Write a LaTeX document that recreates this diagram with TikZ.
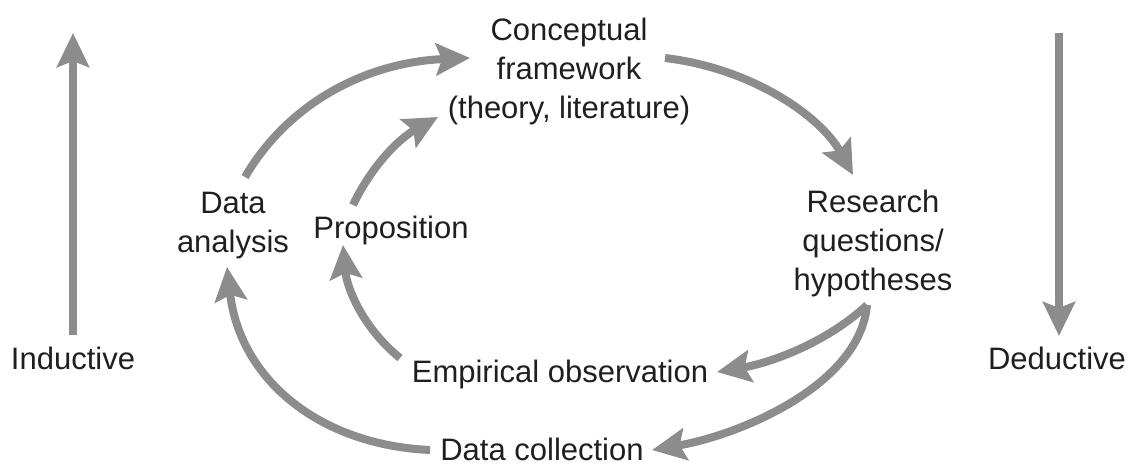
\documentclass[tikz,border=0pt]{standalone}
\usepackage{fontspec}
\setmainfont{Liberation Sans}
\usetikzlibrary{arrows.meta}
\definecolor{arrgray}{RGB}{140,140,140}
\begin{document}
\begin{tikzpicture}[x=0.5pt,y=-0.5pt,
  lbl/.style={inner sep=0pt, anchor=base, align=center, font=\fontsize{15.5}{19.5}\selectfont, text=black!88},
  arr/.style={draw=arrgray, line width=4pt, -{Stealth[length=17pt,width=16pt,inset=3pt]}}]
\useasboundingbox (0,0) rectangle (1131,465);
% labels (anchor base = baseline of last line)
\node[lbl] (cf) at (569,119) {Conceptual\\framework\\(theory, literature)};
\node[lbl] (rq) at (873,290) {Research\\questions/\\hypotheses};
\node[lbl] (da) at (233,252) {Data\\analysis};
\node[lbl] (prop) at (391,238) {Proposition};
\node[lbl] (emp) at (560,382) {Empirical observation};
\node[lbl] (dc) at (542,460) {Data collection};
\node[lbl] (ind) at (73,369) {Inductive};
\node[lbl] (ded) at (1057,369) {Deductive};
% connector end points
\coordinate (indS) at (73,335);
\coordinate (indT) at (73,33);
\coordinate (dedS) at (1059,33);
\coordinate (dedT) at (1059,336);
\coordinate (daOut) at (245,177);
\coordinate (cfInL) at (470,58);
\coordinate (propOut) at (353,205);
\coordinate (cfInB) at (438,117);
\coordinate (cfOut) at (665,58);
\coordinate (rqIn) at (853,175);
\coordinate (rqOut) at (867,305);
\coordinate (empIn) at (717,372);
\coordinate (dcIn) at (652,450);
\coordinate (empOut) at (400,358);
\coordinate (propIn) at (343,245);
\coordinate (dcOut) at (430,450);
\coordinate (daIn) at (227,267);
% connectors
\draw[arr] (indS) -- (indT);
\draw[arr] (dedS) -- (dedT);
\draw[arr] (daOut) .. controls (290,100) and (370,62) .. (cfInL);
\draw[arr] (propOut) .. controls (372,165) and (400,138) .. (cfInB);
\draw[arr] (cfOut) .. controls (750,68) and (820,115) .. (rqIn);
\draw[arr] (rqOut) .. controls (830,340) and (775,362) .. (empIn);
\draw[arr] (rqOut) .. controls (860,385) and (740,435) .. (dcIn);
\draw[arr] (empOut) .. controls (365,330) and (347,290) .. (propIn);
\draw[arr] (dcOut) .. controls (320,445) and (240,380) .. (daIn);
\end{tikzpicture}
\end{document}
